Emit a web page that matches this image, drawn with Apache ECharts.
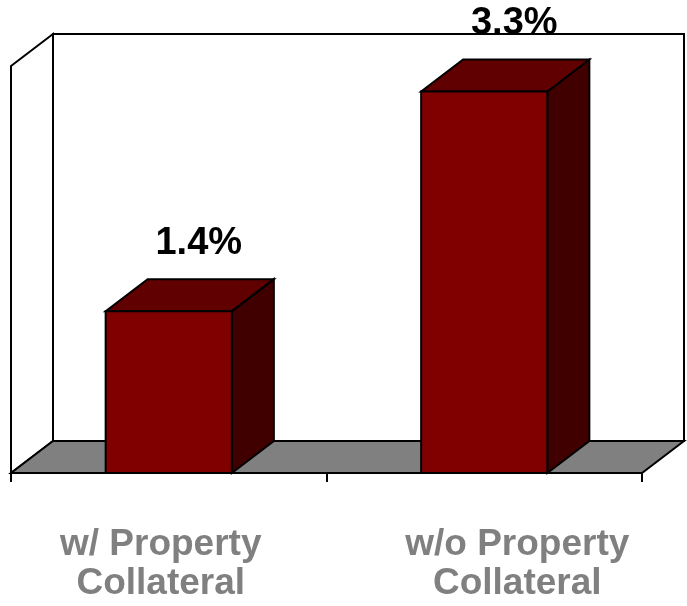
<!DOCTYPE html>
<html>
<head>
<meta charset="utf-8">
<script src="https://cdn.jsdelivr.net/npm/echarts@6/dist/echarts.min.js"></script>
<style>
html, body { margin: 0; padding: 0; background: #fff; }
#chart { width: 687px; height: 606px; }
</style>
</head>
<body>
<div id="chart"></div>
<script>
const categories = ['w/ Property\nCollateral', 'w/o Property\nCollateral'];
const values = [1.4, 3.3];
const valueLabels = ['1.4%', '3.3%'];
const yMin = 0;
const yMax = 3.52;

const DX = 42, DY = 32;
const FONT = '"Liberation Sans", Arial, sans-serif';

const chart = echarts.init(document.getElementById('chart'), null, { renderer: 'canvas' });

function frameItem(params, api) {
  const cs = params.coordSys;
  const L = cs.x, T = cs.y, R = cs.x + cs.width, B = cs.y + cs.height;
  const st = { stroke: '#000', lineWidth: 2, lineJoin: 'miter' };
  return {
    type: 'group',
    children: [
      { type: 'rect', shape: { x: L + DX, y: T - DY, width: cs.width, height: cs.height },
        style: Object.assign({ fill: '#fff' }, st) },
      { type: 'polygon', shape: { points: [[L, T], [L + DX, T - DY], [L + DX, B - DY], [L, B]] },
        style: Object.assign({ fill: '#fff' }, st) },
      { type: 'polygon', shape: { points: [[L, B], [R, B], [R + DX, B - DY], [L + DX, B - DY]] },
        style: Object.assign({ fill: '#808080' }, st) }
    ]
  };
}

function barItem(params, api) {
  const idx = api.value(0);
  const val = api.value(1);
  const base = api.coord([idx, 0]);
  const top = api.coord([idx, val]);
  const w = api.size([1, 0])[0] * 0.4;
  const x0 = base[0] - w / 2, x1 = base[0] + w / 2;
  const ty = top[1], by = base[1];
  const st = { stroke: '#000', lineWidth: 2, lineJoin: 'miter' };
  return {
    type: 'group',
    children: [
      { type: 'polygon', shape: { points: [[x1, ty], [x1 + DX, ty - DY], [x1 + DX, by - DY], [x1, by]] },
        style: Object.assign({ fill: '#400000' }, st) },
      { type: 'polygon', shape: { points: [[x0, ty], [x1, ty], [x1 + DX, ty - DY], [x0 + DX, ty - DY]] },
        style: Object.assign({ fill: '#600000' }, st) },
      { type: 'rect', shape: { x: x0, y: ty, width: w, height: by - ty },
        style: Object.assign({ fill: '#800000' }, st) },
      { type: 'text', z2: 10,
        style: { text: valueLabels[idx], x: base[0] + 30, y: ty - DY - 36,
                 align: 'center', verticalAlign: 'middle',
                 font: 'bold 38px ' + FONT, fill: '#000' } }
    ]
  };
}

chart.setOption({
  animation: false,
  backgroundColor: '#fff',
  grid: { left: 11, right: 45, top: 66, bottom: 133, containLabel: false },
  xAxis: {
    type: 'category',
    data: categories,
    boundaryGap: true,
    axisLine: { show: true, lineStyle: { color: '#000', width: 2 } },
    axisTick: { show: true, length: 9, lineStyle: { color: '#000', width: 2 } },
    axisLabel: {
      margin: 52,
      formatter: function (v, i) {
        const lines = v.split('\n');
        const k = i === 0 ? 'a' : 'b';
        return lines.map(function (s) { return '{' + k + '|' + s + '}'; }).join('\n');
      },
      rich: {
        a: { fontFamily: FONT, fontWeight: 'bold', fontSize: 37, color: '#808080', lineHeight: 39, padding: [0, 16, 0, 0] },
        b: { fontFamily: FONT, fontWeight: 'bold', fontSize: 37, color: '#808080', lineHeight: 39, padding: [0, 0, 0, 66] }
      }
    }
  },
  yAxis: {
    type: 'value', min: yMin, max: yMax, show: false,
    splitLine: { show: false }
  },
  series: [
    {
      type: 'custom', z: 1, renderItem: frameItem, data: [[0]], silent: true,
      encode: { x: 0 }
    },
    {
      type: 'custom', z: 3, renderItem: barItem,
      data: values.map(function (v, i) { return [i, v]; }),
      encode: { x: 0, y: 1 }
    }
  ]
});
</script>
</body>
</html>
